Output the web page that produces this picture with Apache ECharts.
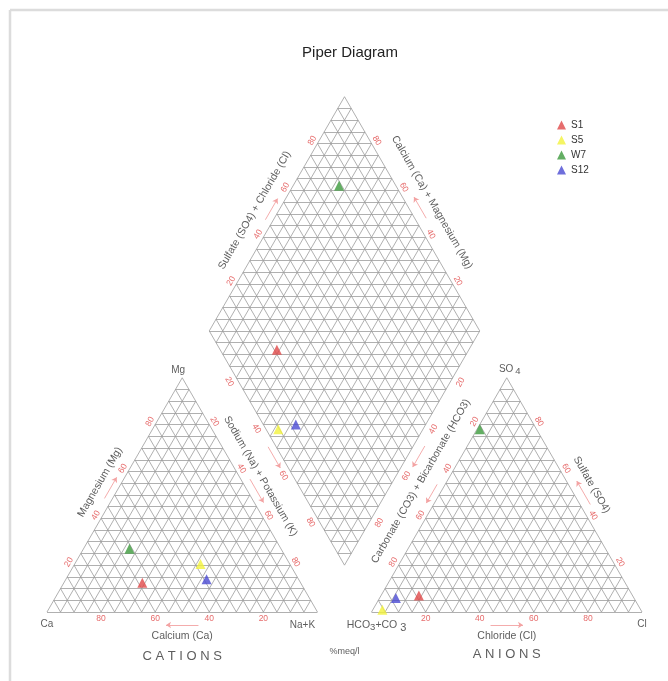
<!DOCTYPE html>
<html><head><meta charset="utf-8">
<script src="https://cdn.jsdelivr.net/npm/echarts@6/dist/echarts.min.js"></script>
<style>html,body{margin:0;padding:0;background:#fff}#c{width:668px;height:681px}</style>
</head><body><div id="c"></div>
<script>
// ---- data (percent of meq/l) ----
const samples = ['S1', 'S5', 'W7', 'S12'];
const calcium = [58.5, 33, 56, 34];
const magnesium = [12.5, 20.5, 27, 14];
const sodiumPotassium = [29, 46.5, 17, 52];
const bicarbonate = [79, 95.5, 21, 88];
const sulfate = [7, 1, 78, 6];
const chloride = [14, 3.5, 1, 6];
const tickLabels = [20, 40, 60, 80];
const gridStepPct = 5;

// ---- style ----
const sampleColors = ['#e04848', '#f2f23c', '#3c9a3c', '#4a4ad2'];
const FONT = 'Liberation Sans, Arial, sans-serif';
const tickColor = '#e04545';
const gridColor = '#9c9c9c';
const arrowColor = '#f3a3a3';

// ---- geometry (unit side triangles) ----
const H = Math.sqrt(3) / 2, G = 0.2;
const W = 668, HT = 681;
const gl = 47, gr = 26, gb = 69;
const S = (W - gl - gr) / (2 + G);
const yMax = G * H + 2 * H;
const gt = HT - gb - yMax * S;

function cat(c, m, n) { const t = c + m + n; m /= t; n /= t; return [n + m / 2, m * H]; }
function an(h, s, c) { const t = h + s + c; s /= t; c /= t; return [1 + G + c + s / 2, s * H]; }
const L = [0.5 + G / 2, H + G * H];
function dia(n, a) { return [L[0] + 0.5 * (n + a), L[1] + H * (a - n)]; }
function off(p, nx, ny, px) { return [p[0] + nx * px / S, p[1] + ny * px / S]; }

// ---- grid lines ----
const gridLines = [];
const seg = (a, b) => gridLines.push({ coords: [a, b] });
for (let p = 0; p < 100; p += gridStepPct) {
  const q = 100 - p;
  seg(cat(p, q, 0), cat(p, 0, q));
  seg(cat(q, p, 0), cat(0, p, q));
  seg(cat(q, 0, p), cat(0, q, p));
  seg(an(p, q, 0), an(p, 0, q));
  seg(an(q, p, 0), an(0, p, q));
  seg(an(q, 0, p), an(0, q, p));
}
for (let p = 0; p <= 100; p += gridStepPct) {
  seg(dia(p / 100, 0), dia(p / 100, 1));
  seg(dia(0, p / 100), dia(1, p / 100));
}
for (let c = -100 + gridStepPct; c < 100; c += gridStepPct) {
  const f = c / 100;
  if (f >= 0) seg(dia(0, f), dia(1 - f, 1));
  else seg(dia(-f, 0), dia(1, 1 + f));
}

// ---- text labels ----
const texts = [];
function txt(pos, text, rot, opt) {
  texts.push({ value: pos, label: Object.assign({ formatter: text, rotate: rot || 0 }, opt || {}) });
}
const tk = { color: tickColor, fontSize: 8.5 };
tickLabels.forEach(v => {
  const w = 100 - v, f = v / 100;
  txt(off(cat(w, v, 0), -H, 0.5, 6), String(v), 60, tk);
  txt(off(cat(0, w, v), H, 0.5, 6), String(v), -60, tk);
  txt(off(cat(v, 0, w), 0, -1, 6.5), String(v), 0, tk);
  txt(off(an(w, 0, v), 0, -1, 6.5), String(v), 0, tk);
  txt(off(an(0, v, w), H, 0.5, 6), String(v), -60, tk);
  txt(off(an(v, w, 0), -H, 0.5, 6), String(v), 60, tk);
  txt(off(dia(0, f), -H, 0.5, 6), String(v), 60, tk);
  txt(off(dia(1 - f, 1), H, 0.5, 6), String(v), -60, tk);
  txt(off(dia(f, 0), -H, -0.5, 8), String(v), -60, tk);
  txt(off(dia(1, 1 - f), H, -0.5, 9), String(v), 60, tk);
});
const ttl = { color: '#333', fontSize: 10.5 };
txt(off(cat(48.6, 51.4, 0), -H, 0.5, 19), 'Magnesium (Mg)', 60, ttl);
txt(off(cat(50, 0, 50), 0, -1, 24), 'Calcium (Ca)', 0, ttl);
txt(off(cat(0, 54, 46), H, 0.5, 18.6), 'Sodium (Na) + Potassium (K)', -60, ttl);
txt(off(an(50, 0, 50), 0, -1, 24), 'Chloride (Cl)', 0, ttl);
txt(off(an(0, 50, 50), H, 0.5, 20), 'Sulfate (SO4)', -60, ttl);
txt(off(an(49, 51, 0), -H, 0.5, 22.7), 'Carbonate (CO3) + Bicarbonate (HCO3)', 60, ttl);
txt(off(dia(0, 0.47), -H, 0.5, 21), 'Sulfate (SO4) + Chloride (Cl)', 60, ttl);
txt(off(dia(0.5, 1), H, 0.5, 23), 'Calcium (Ca) + Magnesium (Mg)', -60, ttl);

const vtx = { color: '#333', fontSize: 10 };
txt(off(off(cat(0, 100, 0), -1, 0, 4), 0, 1, 8), 'Mg', 0, vtx);
txt(off(cat(100, 0, 0), 0, -1, 12), 'Ca', 0, vtx);
txt(off(off(cat(0, 0, 100), -1, 0, 15), 0, -1, 13), 'Na+K', 0, vtx);
txt(off(off(an(0, 100, 0), 1, 0, 3), 0, 1, 9), '{a|SO}{s|4}', 0,
  { rich: { a: { fontSize: 10, color: '#333' }, s: { fontSize: 9.5, color: '#333', padding: [5, 0, 0, 2] } } });
txt(off(off(an(100, 0, 0), 1, 0, 5), 0, -1, 13), '{a|HCO}{s|3}{a|+CO }{b|3}', 0,
  { rich: { a: { fontSize: 10.5, color: '#333' }, s: { fontSize: 9.5, color: '#333', padding: [4, 0, 0, 0] }, b: { fontSize: 11, color: '#333', padding: [5, 0, 0, 0] } } });
txt(off(an(0, 0, 100), 0, -1, 12), 'Cl', 0, vtx);
const big = { color: '#333', fontSize: 13 };
txt(off(cat(50, 0, 50), 0, -1, 44), 'C A T I O N S', 0, big);
txt(off(an(50, 0, 50), 0, -1, 42), 'A N I O N S', 0, big);
txt(off([1 + G / 2, 0], 0, -1, 40), '%meq/l', 0, { color: '#333', fontSize: 9 });

// ---- direction arrows ----
const arrows = [];
const arr = (a, b) => arrows.push({ coords: [a, b] });
arr(off(cat(53, 47, 0), -H, 0.5, 7), off(cat(44, 56, 0), -H, 0.5, 7));
arr(off(cat(44, 0, 56), 0, -1, 13), off(cat(56, 0, 44), 0, -1, 13));
arr(off(cat(0, 55, 45), H, 0.5, 8), off(cat(0, 45, 55), H, 0.5, 8));
arr(off(dia(0.48, 0), -H, -0.5, 7), off(dia(0.57, 0), -H, -0.5, 7));
arr(off(dia(0, 0.46), -H, 0.5, 7), off(dia(0, 0.55), -H, 0.5, 7));
arr(off(dia(0.54, 1), H, 0.5, 10), off(dia(0.45, 1), H, 0.5, 10));
arr(off(dia(1, 0.53), H, -0.5, 10), off(dia(1, 0.44), H, -0.5, 10));
arr(off(an(47, 53, 0), -H, 0.5, 7), off(an(55, 45, 0), -H, 0.5, 7));
arr(off(an(0, 44, 56), H, 0.5, 9), off(an(0, 54, 46), H, 0.5, 9));
arr(off(an(56, 0, 44), 0, -1, 13), off(an(44, 0, 56), 0, -1, 13));

// ---- sample series ----
const sampleSeries = samples.map((name, i) => {
  const tc = calcium[i] + magnesium[i] + sodiumPotassium[i];
  const ta = bicarbonate[i] + sulfate[i] + chloride[i];
  const n = sodiumPotassium[i] / tc;
  const a = (sulfate[i] + chloride[i]) / ta;
  return {
    name, type: 'scatter', symbol: 'triangle', symbolSize: 10, z: 10, clip: false,
    itemStyle: { color: sampleColors[i] },
    data: [cat(calcium[i], magnesium[i], sodiumPotassium[i]),
           an(bicarbonate[i], sulfate[i], chloride[i]),
           dia(n, a)]
  };
});

const chart = echarts.init(document.getElementById('c'), null, { renderer: 'canvas' });
chart.setOption({
  animation: false,
  backgroundColor: '#fff',
  title: { text: 'Piper Diagram', left: 345, top: 40, textAlign: 'center',
    textStyle: { fontSize: 15, fontWeight: 'normal', color: '#222', fontFamily: FONT } },
  legend: { data: samples, orient: 'vertical', left: 552, top: 115, itemWidth: 9, itemHeight: 9,
    itemGap: 5, icon: 'triangle', textStyle: { fontSize: 10, color: '#333', fontFamily: FONT } },
  grid: { left: gl, right: gr, top: gt, bottom: gb },
  xAxis: { type: 'value', min: 0, max: 2 + G, show: false },
  yAxis: { type: 'value', min: 0, max: yMax, show: false },
  graphic: [
    { type: 'line', shape: { x1: 10, y1: 10, x2: 10, y2: 681 }, style: { stroke: '#dcdcdc', lineWidth: 2.5 } },
    { type: 'line', shape: { x1: 10, y1: 10, x2: 668, y2: 10 }, style: { stroke: '#dcdcdc', lineWidth: 2.5 } }
  ],
  series: [
    { type: 'lines', coordinateSystem: 'cartesian2d', silent: true, z: 1, data: gridLines, clip: false,
      lineStyle: { color: gridColor, width: 0.8, opacity: 1 } },
    { type: 'lines', coordinateSystem: 'cartesian2d', silent: true, z: 2, data: arrows, clip: false,
      symbol: ['none', 'arrow'], symbolSize: 5,
      lineStyle: { color: arrowColor, width: 0.9, opacity: 1 } },
    { type: 'scatter', silent: true, z: 5, symbolSize: 0.1, clip: false, itemStyle: { color: 'rgba(0,0,0,0)' },
      label: { show: true, position: 'inside', fontFamily: FONT, color: '#333' },
      data: texts },
    ...sampleSeries
  ]
});
</script>
</body></html>
